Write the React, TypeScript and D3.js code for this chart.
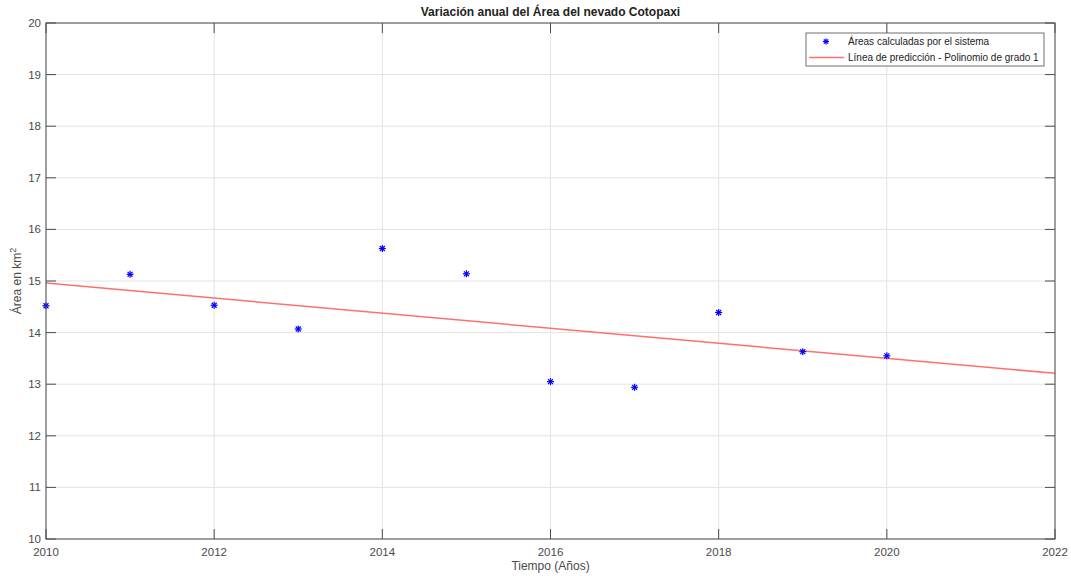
import React from "react";
import * as d3 from "d3";

const years = [2010, 2011, 2012, 2013, 2014, 2015, 2016, 2017, 2018, 2019, 2020];
const areas = [14.52, 15.13, 14.53, 14.07, 15.63, 15.14, 13.05, 12.94, 14.39, 13.63, 13.55];
const fitYears = [2010, 2022];
const fitValues = [14.96, 13.21];
const xTicks = [2010, 2012, 2014, 2016, 2018, 2020, 2022];
const yTicks = [10, 11, 12, 13, 14, 15, 16, 17, 18, 19, 20];
const title = "Variación anual del Área del nevado Cotopaxi";
const xLabel = "Tiempo (Años)";
const legendLabels = ["Áreas calculadas por el sistema", "Línea de predicción - Polinomio de grado 1"];

const W = 1071, H = 576;
const M = { left: 46, right: 1055, top: 23, bottom: 539 };
const FONT = "'Liberation Sans', Arial, Helvetica, sans-serif";
const AX = "#4d4d4d";
const TXT = "#4a4a4a";

function Star({ x, y, r }: { x: number; y: number; r: number }) {
  const d = r * Math.SQRT1_2;
  return (
    <g stroke="#0000ff" strokeWidth={1.2}>
      <line x1={x - r} y1={y} x2={x + r} y2={y} />
      <line x1={x} y1={y - r} x2={x} y2={y + r} />
      <line x1={x - d} y1={y - d} x2={x + d} y2={y + d} />
      <line x1={x - d} y1={y + d} x2={x + d} y2={y - d} />
    </g>
  );
}

export default function App() {
  const x = d3.scaleLinear().domain([2010, 2022]).range([M.left, M.right]);
  const y = d3.scaleLinear().domain([10, 20]).range([M.bottom, M.top]);
  const line = d3.line<number>().x((_, i) => x(fitYears[i])).y((v) => y(v));
  const tl = 10;
  return (
    <svg width={W} height={H} style={{ position: "absolute", left: 0, top: 0, background: "#fff" }} fontFamily={FONT}>
      <rect x={0} y={0} width={W} height={H} fill="#fff" />
      {xTicks.map((t) => (
        <line key={"gx" + t} x1={x(t)} x2={x(t)} y1={M.top} y2={M.bottom} stroke="#e3e3e3" strokeWidth={1} />
      ))}
      {yTicks.map((t) => (
        <line key={"gy" + t} x1={M.left} x2={M.right} y1={y(t)} y2={y(t)} stroke="#e3e3e3" strokeWidth={1} />
      ))}
      <path d={line(fitValues) || ""} fill="none" stroke="#ff6f6f" strokeWidth={1.5} />
      {years.map((yr, i) => (
        <Star key={yr} x={x(yr)} y={y(areas[i])} r={3.5} />
      ))}
      <rect x={M.left} y={M.top} width={M.right - M.left} height={M.bottom - M.top} fill="none" stroke={AX} strokeWidth={1} />
      {xTicks.map((t) => (
        <g key={"tx" + t}>
          <line x1={x(t)} x2={x(t)} y1={M.bottom} y2={M.bottom - tl} stroke={AX} />
          <line x1={x(t)} x2={x(t)} y1={M.top} y2={M.top + tl} stroke={AX} />
          <text x={x(t)} y={M.bottom + 17} textAnchor="middle" fontSize={11.5} fill={TXT}>{t}</text>
        </g>
      ))}
      {yTicks.map((t) => (
        <g key={"ty" + t}>
          <line x1={M.left} x2={M.left + tl} y1={y(t)} y2={y(t)} stroke={AX} />
          <line x1={M.right} x2={M.right - tl} y1={y(t)} y2={y(t)} stroke={AX} />
          <text x={M.left - 5} y={y(t) + 4} textAnchor="end" fontSize={11.5} fill={TXT}>{t}</text>
        </g>
      ))}
      <text x={(M.left + M.right) / 2} y={16} textAnchor="middle" fontSize={12} fontWeight="bold" fill="#222">{title}</text>
      <text x={(M.left + M.right) / 2} y={570} textAnchor="middle" fontSize={12} fill={TXT}>{xLabel}</text>
      <text transform={`translate(21, ${(M.top + M.bottom) / 2}) rotate(-90)`} textAnchor="middle" fontSize={12} fill={TXT}>
        Área en km<tspan dy={-5} fontSize={9}>2</tspan>
      </text>
      <g>
        <rect x={806} y={33} width={238} height={33} fill="#fff" stroke={AX} strokeWidth={0.8} />
        <Star x={826} y={41.5} r={3} />
        <text x={848} y={45} fontSize={10} fill="#222">{legendLabels[0]}</text>
        <line x1={809} x2={844} y1={57.5} y2={57.5} stroke="#ff6f6f" strokeWidth={1.5} />
        <text x={848} y={61} fontSize={10} fill="#222">{legendLabels[1]}</text>
      </g>
    </svg>
  );
}
